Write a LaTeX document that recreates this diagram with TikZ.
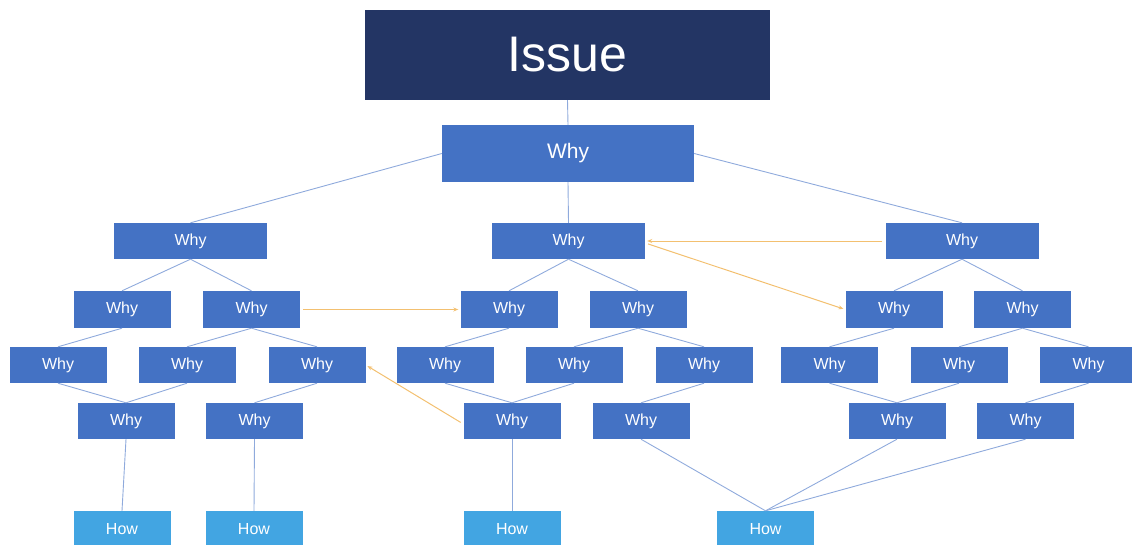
\documentclass[tikz,border=0pt]{standalone}
\usepackage{fontspec}
\setmainfont{Liberation Sans}
\usetikzlibrary{arrows.meta}
\definecolor{navy}{RGB}{35,53,100}
\definecolor{whyblue}{RGB}{68,114,196}
\definecolor{howblue}{RGB}{66,165,226}
\definecolor{linkblue}{RGB}{143,170,220}
\definecolor{linkorange}{RGB}{243,192,112}
\tikzset{
  box/.style={fill=whyblue, text=white, inner sep=0pt, minimum width=97pt, minimum height=36pt, font=\fontsize{16}{19}\selectfont},
  whybox/.style={box},
  howbox/.style={box, fill=howblue},
  link/.style={draw=linkblue, line width=0.9pt},
  jump/.style={draw=linkorange, line width=1pt, -{Stealth[length=5pt,width=4pt]}, shorten >=2pt, shorten <=3pt},
}
\begin{document}
\begin{tikzpicture}[x=1pt,y=-1pt]
\useasboundingbox (0,0) rectangle (1132,544);
% nodes
\node[box, fill=navy, minimum width=405pt, minimum height=90pt, font=\fontsize{50}{56}\selectfont] (issue) at (567.5,55) {Issue};
\node[whybox, minimum width=252pt, minimum height=57pt, font=\fontsize{21}{24}\selectfont] (w0) at (568,153.5) {Why};
% level 2
\node[whybox, minimum width=153pt] (a) at (190.5,241) {Why};
\node[whybox, minimum width=153pt] (b) at (568.5,241) {Why};
\node[whybox, minimum width=153pt] (c) at (962,241) {Why};
% level 3
\node[whybox, minimum height=37pt] (a1) at (122,309.5) {Why};
\node[whybox, minimum height=37pt] (a2) at (251.5,309.5) {Why};
\node[whybox, minimum height=37pt] (b1) at (509,309.5) {Why};
\node[whybox, minimum height=37pt] (b2) at (638,309.5) {Why};
\node[whybox, minimum height=37pt] (c1) at (894,309.5) {Why};
\node[whybox, minimum height=37pt] (c2) at (1022.5,309.5) {Why};
% level 4
\node[whybox] (a11) at (58,365) {Why};
\node[whybox] (a21) at (187,365) {Why};
\node[whybox] (a22) at (317,365) {Why};
\node[whybox] (b11) at (445,365) {Why};
\node[whybox] (b21) at (574,365) {Why};
\node[whybox] (b22) at (704,365) {Why};
\node[whybox] (c11) at (829.5,365) {Why};
\node[whybox] (c21) at (959,365) {Why};
\node[whybox] (c22) at (1088.5,365) {Why};
% level 5
\node[whybox] (a5) at (126,421) {Why};
\node[whybox] (a6) at (254.5,421) {Why};
\node[whybox] (b5) at (512,421) {Why};
\node[whybox] (b6) at (641,421) {Why};
\node[whybox] (c5) at (897,421) {Why};
\node[whybox] (c6) at (1025.5,421) {Why};
% how
\node[howbox] (h1) at (122,529) {How};
\node[howbox] (h2) at (254,529) {How};
\node[howbox] (h3) at (512,529) {How};
\node[howbox] (h4) at (765.5,529) {How};
% tree links
\draw[link] (issue.south) -- (w0.north);
\draw[link] (w0.west) -- (a.north);
\draw[link] (w0.south) -- (b.north);
\draw[link] (w0.east) -- (c.north);
\foreach \p/\q in {a/a1,a/a2,b/b1,b/b2,c/c1,c/c2,
  a1/a11,a2/a21,a2/a22,b1/b11,b2/b21,b2/b22,c1/c11,c2/c21,c2/c22,
  a11/a5,a21/a5,a22/a6,b11/b5,b21/b5,b22/b6,c11/c5,c21/c5,c22/c6,
  a5/h1,a6/h2,b5/h3,b6/h4,c5/h4,c6/h4}
  \draw[link] (\p.south) -- (\q.north);
% cross links
\draw[jump] (a2.east) -- (b1.west);
\draw[jump] (c.west) -- (b.east);
\draw[jump] ([yshift=-2pt]b.east) -- (c1.west);
\draw[jump] ([yshift=-3pt]b5.west) -- (a22.east);
\end{tikzpicture}
\end{document}
